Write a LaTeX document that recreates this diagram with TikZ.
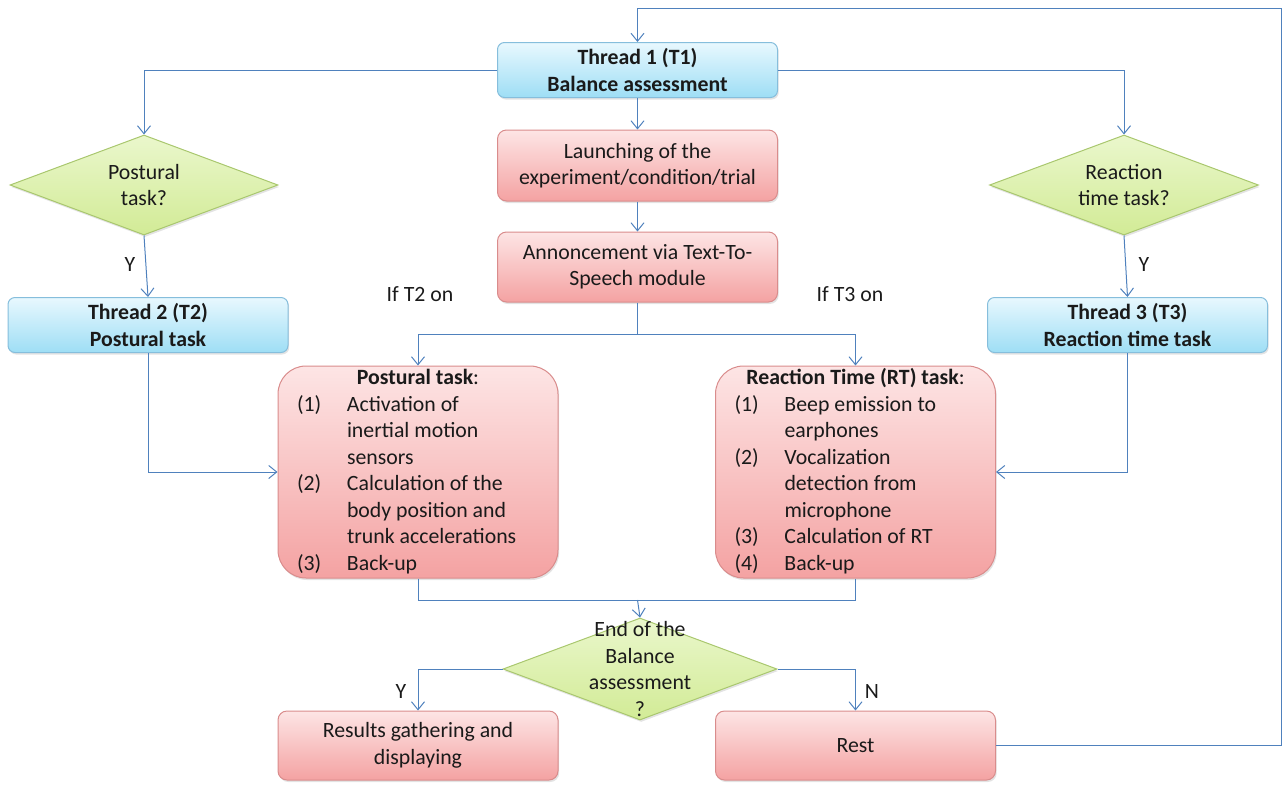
\documentclass[tikz,border=0pt]{standalone}
\usepackage{fontspec}
\setmainfont{Carlito}
\usetikzlibrary{arrows.meta,shapes.geometric,shadows}
\definecolor{ln}{HTML}{4F81BD}
\definecolor{bluetop}{HTML}{E8F8FE}
\definecolor{bluebot}{HTML}{9EDEF5}
\definecolor{blueln}{HTML}{86BEDC}
\definecolor{redtop}{HTML}{FDE5E5}
\definecolor{redbot}{HTML}{F4A2A2}
\definecolor{redln}{HTML}{D98C8C}
\definecolor{grtop}{HTML}{EAF7CC}
\definecolor{grbot}{HTML}{D2EB96}
\definecolor{grln}{HTML}{A9C76E}
\definecolor{txt}{HTML}{1A1A1A}
\tikzset{
  shd/.style={drop shadow={opacity=0.22,shadow xshift=1.2pt,shadow yshift=-2pt}},
  bluebox/.style={shd,draw=blueln,line width=1pt,top color=bluetop,bottom color=bluebot,
    rounded corners=7pt,minimum width=280pt,minimum height=55pt,align=center,inner sep=0pt,
    font=\fontsize{21.8}{27}\selectfont\bfseries},
  redbox/.style={shd,draw=redln,line width=1pt,top color=redtop,bottom color=redbot,
    rounded corners=9pt,minimum width=280pt,minimum height=70pt,align=center,inner sep=0pt},
  bigbox/.style={redbox,rounded corners=28pt,minimum height=212pt},
  dia/.style={shd,shape=diamond,draw=grln,line width=1pt,top color=grtop,bottom color=grbot,
    inner sep=0pt},
  lbl/.style={align=center,inner sep=0pt},
  arr/.style={draw=ln,line width=1pt,-{Straight Barb[length=8pt,width=13pt]}},
  ln/.style={draw=ln,line width=1pt}
}
\begin{document}
\begin{tikzpicture}[x=1pt,y=-1pt,font=\fontsize{21.8}{26.5}\selectfont,text=txt]
\useasboundingbox (0,0) rectangle (1282,785);

% blue thread boxes
\node[bluebox] (t1) at (637.5,70) {Thread 1 (T1)\\Balance assessment};
\node[bluebox] (t2) at (148,325) {Thread 2 (T2)\\Postural task};
\node[bluebox] (t3) at (1127.5,325) {Thread 3 (T3)\\Reaction time task};

% red boxes
\node[redbox,minimum height=71pt] (launch) at (637.5,165.5) {Launching of the\\experiment/condition/trial};
\node[redbox] (annc) at (637.5,267) {Annoncement via Text-To-\\Speech module};
\node[redbox,minimum height=69pt] (res) at (418,745.5) {Results gathering and\\displaying};
\node[redbox,minimum height=69pt] (rest) at (855.5,745.5) {Rest};

\node[bigbox] (post) at (418,472) {%
\begin{tabular}{@{}p{50pt}@{}p{192pt}@{}}
\multicolumn{2}{@{}c@{}}{\textbf{Postural task}:}\\
(1) & Activation of\\
    & inertial motion\\
    & sensors\\
(2) & Calculation of the\\
    & body position and\\
    & trunk accelerations\\
(3) & Back-up
\end{tabular}};
\node[bigbox] (rt) at (855.5,472) {%
\begin{tabular}{@{}p{50pt}@{}p{192pt}@{}}
\multicolumn{2}{@{}c@{}}{\textbf{Reaction Time (RT) task}:}\\
(1) & Beep emission to\\
    & earphones\\
(2) & Vocalization\\
    & detection from\\
    & microphone\\
(3) & Calculation of RT\\
(4) & Back-up
\end{tabular}};

% diamonds
\node[dia,minimum width=268pt,minimum height=100pt] (pd) at (144,185) {};
\node[lbl] (pdt) at (pd) {Postural\\task?};
\node[dia,minimum width=269pt,minimum height=100pt] (rd) at (1124,185) {};
\node[lbl] (rdt) at (rd) {Reaction\\time task?};
\node[dia,minimum width=274pt,minimum height=102pt] (end) at (640,669) {};
\node[lbl] (endt) at (end) {End of the\\Balance\\assessment\\?};

% labels
\node[lbl] (y1) at (130,264) {Y};
\node[lbl] (y2) at (1144,264) {Y};
\node[lbl] (y3) at (401,691) {Y};
\node[lbl] (n1) at (872,691) {N};
\node[lbl] (if2) at (420,294) {If T2 on};
\node[lbl] (if3) at (850,294) {If T3 on};

% coordinates
\coordinate (loopA) at (1281,745.5);
\coordinate (loopB) at (1281,8);
\coordinate (split) at (637.5,334);
\coordinate (merge) at (637.5,600);

% connectors
\draw[arr] (rest.east) -- (loopA) -- (loopB) -| (t1.north);
\draw[arr] (t1.west) -| (pd.north);
\draw[arr] (t1.east) -| (rd.north);
\draw[arr] (t1.south) -- (launch.north);
\draw[arr] (launch.south) -- (annc.north);
\draw[ln] (annc.south) -- (split);
\draw[arr] (split) -| (post.north);
\draw[arr] (split) -| (rt.north);
\draw[arr] (pd.south) -- (t2.north);
\draw[arr] (rd.south) -- (t3.north);
\draw[arr] (t2.south) |- (post.west);
\draw[arr] (t3.south) |- (rt.east);
\draw[ln] (post.south) |- (merge) -| (rt.south);
\draw[arr] (merge) -- (end.north);
\draw[arr] (end.west) -| (res.north);
\draw[arr] (end.east) -| (rest.north);
\end{tikzpicture}
\end{document}
